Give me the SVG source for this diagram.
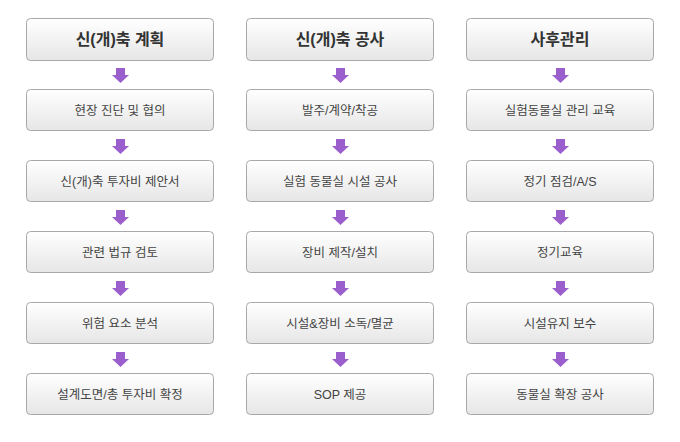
<svg xmlns="http://www.w3.org/2000/svg" width="680" height="442" viewBox="0 0 680 442">
<defs>
<linearGradient id="g" x1="0" y1="0" x2="0" y2="1">
<stop offset="0" stop-color="#ffffff"/>
<stop offset="1" stop-color="#e6e6e6"/>
</linearGradient>
<path id="arr" d="M-4.5,0 H4.5 V7 H8.5 L0,15 L-8.5,7 H-4.5 Z"/>
</defs>
<style>
.box{fill:url(#g);stroke:#a8a8a8;stroke-width:1}
.h{font-family:"Liberation Sans","Noto Sans CJK KR",sans-serif;font-size:16px;font-weight:bold;fill:#333;text-anchor:middle}
.t{font-family:"Liberation Sans","Noto Sans CJK KR",sans-serif;font-size:12.5px;fill:#444;text-anchor:middle}
.a{fill:#9a5fcc}
</style>
<rect width="680" height="442" fill="#fff"/>
<g id="connectors">
<use href="#arr" class="a" x="120.5" y="68"/>
<use href="#arr" class="a" x="120.5" y="139"/>
<use href="#arr" class="a" x="120.5" y="210"/>
<use href="#arr" class="a" x="120.5" y="281"/>
<use href="#arr" class="a" x="120.5" y="352"/>
<use href="#arr" class="a" x="340.5" y="68"/>
<use href="#arr" class="a" x="340.5" y="139"/>
<use href="#arr" class="a" x="340.5" y="210"/>
<use href="#arr" class="a" x="340.5" y="281"/>
<use href="#arr" class="a" x="340.5" y="352"/>
<use href="#arr" class="a" x="560.5" y="68"/>
<use href="#arr" class="a" x="560.5" y="139"/>
<use href="#arr" class="a" x="560.5" y="210"/>
<use href="#arr" class="a" x="560.5" y="281"/>
<use href="#arr" class="a" x="560.5" y="352"/>
</g>
<g id="c1h"><rect class="box" x="26.5" y="18.5" width="187" height="42" rx="4"/><text class="h" x="120" y="45">신(개)축 계획</text></g>
<g id="c1r1"><rect class="box" x="26.5" y="89.5" width="187" height="41" rx="4"/><text class="t" x="120" y="115">현장 진단 및 협의</text></g>
<g id="c1r2"><rect class="box" x="26.5" y="160.5" width="187" height="41" rx="4"/><text class="t" x="120" y="186">신(개)축 투자비 제안서</text></g>
<g id="c1r3"><rect class="box" x="26.5" y="231.5" width="187" height="41" rx="4"/><text class="t" x="120" y="257">관련 법규 검토</text></g>
<g id="c1r4"><rect class="box" x="26.5" y="302.5" width="187" height="41" rx="4"/><text class="t" x="120" y="328">위험 요소 분석</text></g>
<g id="c1r5"><rect class="box" x="26.5" y="373.5" width="187" height="41" rx="4"/><text class="t" x="120" y="399">설계도면/총 투자비 확정</text></g>
<g id="c2h"><rect class="box" x="246.5" y="18.5" width="187" height="42" rx="4"/><text class="h" x="340" y="45">신(개)축 공사</text></g>
<g id="c2r1"><rect class="box" x="246.5" y="89.5" width="187" height="41" rx="4"/><text class="t" x="340" y="115">발주/계약/착공</text></g>
<g id="c2r2"><rect class="box" x="246.5" y="160.5" width="187" height="41" rx="4"/><text class="t" x="340" y="186">실험 동물실 시설 공사</text></g>
<g id="c2r3"><rect class="box" x="246.5" y="231.5" width="187" height="41" rx="4"/><text class="t" x="340" y="257">장비 제작/설치</text></g>
<g id="c2r4"><rect class="box" x="246.5" y="302.5" width="187" height="41" rx="4"/><text class="t" x="340" y="328">시설&amp;장비 소독/멸균</text></g>
<g id="c2r5"><rect class="box" x="246.5" y="373.5" width="187" height="41" rx="4"/><text class="t" x="340" y="399">SOP 제공</text></g>
<g id="c3h"><rect class="box" x="466.5" y="18.5" width="187" height="42" rx="4"/><text class="h" x="560" y="45">사후관리</text></g>
<g id="c3r1"><rect class="box" x="466.5" y="89.5" width="187" height="41" rx="4"/><text class="t" x="560" y="115">실험동물실 관리 교육</text></g>
<g id="c3r2"><rect class="box" x="466.5" y="160.5" width="187" height="41" rx="4"/><text class="t" x="560" y="186">정기 점검/A/S</text></g>
<g id="c3r3"><rect class="box" x="466.5" y="231.5" width="187" height="41" rx="4"/><text class="t" x="560" y="257">정기교육</text></g>
<g id="c3r4"><rect class="box" x="466.5" y="302.5" width="187" height="41" rx="4"/><text class="t" x="560" y="328">시설유지 보수</text></g>
<g id="c3r5"><rect class="box" x="466.5" y="373.5" width="187" height="41" rx="4"/><text class="t" x="560" y="399">동물실 확장 공사</text></g>
</svg>
